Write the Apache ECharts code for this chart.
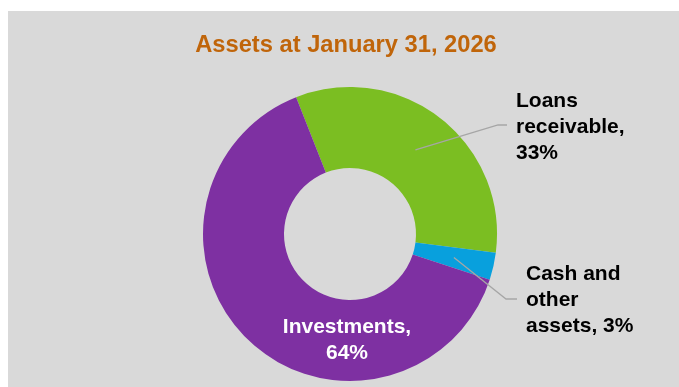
<!DOCTYPE html>
<html>
<head>
<meta charset="utf-8">
<script src="https://cdn.jsdelivr.net/npm/echarts@6/dist/echarts.min.js"></script>
<style>
html,body{margin:0;padding:0;background:#ffffff;}
#chart{width:679px;height:387px;}
</style>
</head>
<body>
<div id="chart"></div>
<script>
const titleText = 'Assets at January 31, 2026';
const categories = ['Loans receivable', 'Cash and other assets', 'Investments'];
const values = [33, 3, 64];
const labelTexts = ['Loans\nreceivable,', 'Cash and\nother\nassets,', 'Investments,'];
const colors = ['#7BBE22', '#08A0DD', '#7E30A2'];

const CX = 350, CY = 234, R_IN = 66, R_OUT = 147;
const START = 111.5;
const total = values.reduce((a, b) => a + b, 0);
function midAngle(i) {
  let acc = 0;
  for (let k = 0; k < i; k++) acc += values[k];
  const a = START - (acc + values[i] / 2) / total * 360;
  return a * Math.PI / 180;
}
function ringPoint(i, r) {
  const a = midAngle(i);
  return [CX + Math.cos(a) * r, CY - Math.sin(a) * r];
}

const chart = echarts.init(document.getElementById('chart'), null, {renderer: 'canvas'});
const FONT = '"Liberation Sans", Arial, sans-serif';
const pieBase = {
  type: 'pie',
  center: [CX, CY],
  radius: [R_IN, R_OUT],
  startAngle: START,
  clockwise: true,
  avoidLabelOverlap: false,
  silent: true
};
chart.setOption({
  animation: false,
  graphic: [{
    type: 'rect', z: -10, silent: true,
    shape: {x: 8, y: 11, width: 671, height: 376},
    style: {fill: '#D9D9D9'}
  }],
  title: {
    text: titleText,
    left: 346, top: 31, textAlign: 'center', padding: 0,
    textStyle: {color: '#C0650A', fontSize: 23.7, fontWeight: 'bold', fontFamily: FONT, lineHeight: 28}
  },
  series: [Object.assign({}, pieBase, {
    z: 2,
    label: {show: false},
    labelLine: {show: false},
    itemStyle: {borderWidth: 0},
    data: categories.map((c, i) => ({name: c, value: values[i], itemStyle: {color: colors[i]}}))
  }), Object.assign({}, pieBase, {
    z: 5,
    itemStyle: {color: 'rgba(0,0,0,0)', borderWidth: 0},
    label: {
      show: true,
      position: 'outside',
      fontFamily: FONT, fontSize: 21, fontWeight: 'bold', lineHeight: 26,
      color: '#000000',
      formatter: p => labelTexts[p.dataIndex] + (p.dataIndex === 1 ? ' ' : '\n') + Math.round(p.percent) + '%'
    },
    labelLine: {show: true, lineStyle: {color: '#A6A6A6', width: 1.3}},
    labelLayout: function (params) {
      const i = params.dataIndex;
      if (i === 0) {
        return {x: 516, y: 127, align: 'left', verticalAlign: 'middle',
          labelLinePoints: [ringPoint(0, (R_IN + R_OUT) / 2), [498, 125], [507, 125]]};
      }
      if (i === 1) {
        return {x: 526, y: 300, align: 'left', verticalAlign: 'middle',
          labelLinePoints: [ringPoint(1, (R_IN + R_OUT) / 2), [506, 299], [517, 299]]};
      }
      return {x: 347, y: 340, align: 'center', verticalAlign: 'middle'};
    },
    data: categories.map((c, i) => ({
      name: c, value: values[i],
      label: i === 2 ? {color: '#FFFFFF'} : {},
      labelLine: i === 2 ? {show: false} : {}
    }))
  })]
});
</script>
</body>
</html>
